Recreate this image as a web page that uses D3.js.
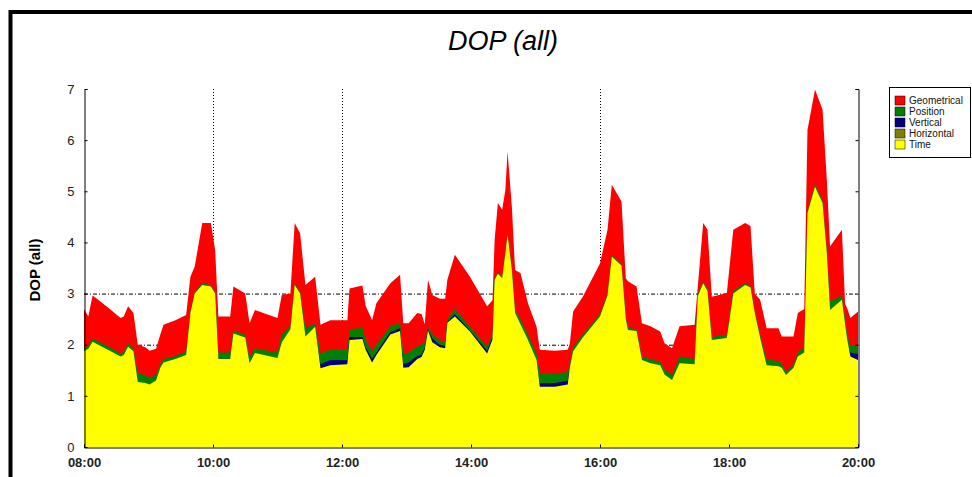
<!DOCTYPE html>
<html>
<head>
<meta charset="utf-8">
<script src="https://cdn.jsdelivr.net/npm/d3@7"></script>
<style>
  body { margin: 0; background: #fff; }
  text { font-family: "Liberation Sans", Arial, sans-serif; }
</style>
</head>
<body>
<svg id="chart" width="972" height="477"></svg>
<script>
// sample times (hh:mm)
var times = ["08:00","08:04","08:08","08:15","08:24","08:34","08:37","08:41","08:46","08:50",
  "08:57","09:01","09:07","09:11","09:14","09:25","09:35","09:39","09:43","09:50",
  "09:58","10:02","10:05","10:16","10:19","10:30","10:34","10:39","11:00","11:04",
  "11:12","11:16","11:21","11:26","11:35","11:40","11:49","12:05","12:07","12:19",
  "12:22","12:28","12:32","12:45","12:54","12:57","13:02","13:10","13:14","13:17",
  "13:20","13:24","13:31","13:36","13:38","13:45","13:59","14:15","14:20","14:22",
  "14:25","14:29","14:32","14:34","14:38","14:41","14:46","14:53","15:01","15:04",
  "15:18","15:30","15:32","15:35","15:44","16:00","16:07","16:11","16:20","16:24",
  "16:26","16:34","16:39","16:47","16:56","17:00","17:07","17:14","17:28","17:31",
  "17:36","17:40","17:44","17:58","18:04","18:15","18:20","18:24","18:29","18:35",
  "18:46","18:49","18:53","19:00","19:04","19:10","19:13","19:20","19:27","19:31",
  "19:34","19:45","19:48","19:50","19:53","20:00"];

var geometrical = [2.70,2.55,2.96,2.85,2.70,2.52,2.55,2.75,2.62,2.00,
  1.95,1.88,1.92,2.20,2.39,2.48,2.58,3.33,3.53,4.38,
  4.38,3.85,2.55,2.55,3.14,3.00,2.42,2.68,2.52,2.97,
  3.00,4.38,4.18,3.17,3.33,2.39,2.48,2.48,3.10,3.16,
  2.76,2.48,2.81,3.20,3.37,2.42,2.42,2.62,2.60,2.40,
  3.27,2.97,2.90,2.90,3.27,3.76,3.33,2.75,2.87,4.05,
  4.77,4.64,5.03,5.78,4.70,3.46,3.40,2.81,2.35,1.90,
  1.88,1.90,2.03,2.65,2.94,3.59,4.25,5.13,4.80,3.30,
  3.24,3.14,2.42,2.36,2.26,2.03,1.93,2.36,2.39,3.14,
  4.38,4.25,2.94,3.01,4.25,4.38,4.32,3.00,2.88,2.32,
  2.32,2.16,2.16,2.16,2.62,2.70,6.20,6.99,6.60,5.22,
  3.92,4.25,2.80,2.71,2.52,2.65];

var position = [1.93,1.98,2.12,2.05,1.95,1.83,1.86,2.02,1.93,1.45,
  1.40,1.35,1.42,1.62,1.72,1.78,1.87,2.66,3.02,3.20,
  3.17,3.02,1.85,1.85,2.28,2.20,1.75,1.93,1.85,2.20,
  2.35,3.20,3.02,2.32,2.42,1.83,1.90,1.90,2.30,2.33,
  2.10,1.87,2.00,2.36,2.43,1.83,1.85,1.97,2.00,2.05,
  2.35,2.20,2.08,2.05,2.50,2.70,2.35,1.96,2.20,3.30,
  3.42,3.33,3.82,4.18,3.50,2.68,2.50,2.20,1.83,1.44,
  1.44,1.46,1.65,1.95,2.20,2.60,3.00,3.75,3.58,2.55,
  2.33,2.30,1.77,1.72,1.66,1.52,1.41,1.77,1.72,3.00,
  3.23,3.10,2.15,2.20,3.05,3.20,3.15,2.65,2.20,1.71,
  1.68,1.64,1.46,1.62,1.85,1.95,4.62,5.14,4.82,3.84,
  2.85,2.96,2.50,2.20,1.98,1.98];

var vertical = [1.80,1.85,2.00,1.92,1.82,1.70,1.73,1.90,1.80,1.20,
  1.18,1.15,1.22,1.48,1.58,1.65,1.74,2.55,2.92,3.10,
  3.07,2.92,1.65,1.65,2.15,2.08,1.58,1.78,1.68,2.00,
  2.25,3.10,2.92,2.10,2.28,1.62,1.70,1.70,2.15,2.15,
  1.95,1.72,1.85,2.25,2.32,1.63,1.65,1.78,1.80,1.95,
  2.30,2.12,2.00,1.98,2.45,2.60,2.28,1.88,2.15,3.28,
  3.30,3.22,3.70,4.05,3.38,2.55,2.35,2.02,1.64,1.25,
  1.25,1.30,1.60,1.82,2.08,2.48,2.88,3.62,3.46,2.42,
  2.20,2.18,1.64,1.58,1.54,1.36,1.25,1.58,1.56,2.90,
  3.12,2.98,2.02,2.06,2.92,3.10,3.05,2.56,2.06,1.54,
  1.52,1.48,1.35,1.48,1.70,1.80,4.50,5.02,4.70,3.72,
  2.62,2.82,2.34,2.02,1.85,1.82];

var horizontal = [1.75,1.80,1.95,1.88,1.78,1.66,1.69,1.85,1.76,1.15,
  1.13,1.10,1.18,1.44,1.54,1.60,1.70,2.50,2.88,3.05,
  3.02,2.88,1.60,1.60,2.10,2.03,1.54,1.74,1.64,1.95,
  2.20,3.05,2.88,2.05,2.24,1.48,1.54,1.56,2.02,2.05,
  1.84,1.60,1.75,2.15,2.22,1.50,1.50,1.66,1.70,1.85,
  2.22,2.00,1.90,1.88,2.38,2.50,2.20,1.78,2.05,3.20,
  3.32,3.24,3.72,4.08,3.40,2.56,2.34,2.01,1.62,1.12,
  1.12,1.16,1.50,1.80,2.06,2.47,2.88,3.62,3.46,2.40,
  2.20,2.18,1.62,1.56,1.52,1.34,1.23,1.56,1.54,2.88,
  3.10,2.96,2.00,2.04,2.90,3.08,3.03,2.54,2.04,1.52,
  1.50,1.46,1.33,1.46,1.68,1.78,4.48,5.00,4.68,3.70,
  2.60,2.80,2.32,2.00,1.72,1.66];

var timeDop = [1.87,1.92,2.06,1.98,1.88,1.77,1.80,1.96,1.87,1.27,
  1.25,1.22,1.30,1.55,1.65,1.72,1.80,2.62,3.00,3.17,
  3.14,3.00,1.72,1.72,2.22,2.14,1.64,1.84,1.74,2.05,
  2.30,3.17,3.00,2.16,2.35,1.54,1.60,1.62,2.09,2.11,
  1.90,1.65,1.80,2.20,2.27,1.55,1.56,1.72,1.76,1.90,
  2.28,2.05,1.95,1.93,2.43,2.55,2.26,1.83,2.10,3.27,
  3.39,3.30,3.79,4.15,3.46,2.62,2.40,2.09,1.70,1.18,
  1.18,1.22,1.57,1.87,2.14,2.55,2.96,3.72,3.55,2.50,
  2.29,2.27,1.70,1.64,1.60,1.42,1.31,1.64,1.62,2.95,
  3.20,3.05,2.09,2.13,3.00,3.17,3.12,2.62,2.13,1.60,
  1.58,1.55,1.41,1.55,1.77,1.85,4.57,5.09,4.77,3.79,
  2.68,2.88,2.40,2.09,1.77,1.70];

var seriesNames = ["Geometrical", "Position", "Vertical", "Horizontal", "Time"];
var seriesColors = ["#ff0000", "#008000", "#000080", "#808000", "#ffff00"];
var seriesValues = [geometrical, position, vertical, horizontal, timeDop];

var yTicks = [0, 1, 2, 3, 4, 5, 6, 7];
var xTickLabels = ["08:00", "10:00", "12:00", "14:00", "16:00", "18:00", "20:00"];
var hGrid = [2, 3];
var vGrid = ["10:00", "12:00", "16:00"];

var parseT = d3.timeParse("%H:%M");
var svg = d3.select("#chart");

// outer frame (only top and left edges fall inside the picture)
svg.append("rect")
  .attr("x", 10.5).attr("y", 12)
  .attr("width", 1000).attr("height", 500)
  .attr("fill", "none").attr("stroke", "#000").attr("stroke-width", 4);

var x = d3.scaleTime()
  .domain([parseT("08:00"), parseT("20:00")])
  .range([84, 858]);
var y = d3.scaleLinear().domain([0, 7]).range([447, 89]);

// grid behind the areas
svg.append("g").selectAll("line").data(hGrid).join("line")
  .attr("x1", 84).attr("x2", 858)
  .attr("y1", function(d){ return y(d) + 0.5; })
  .attr("y2", function(d){ return y(d) + 0.5; })
  .attr("stroke", "#000").attr("stroke-dasharray", "4,2,1,2");

svg.append("g").selectAll("line").data(vGrid).join("line")
  .attr("x1", function(d){ return Math.round(x(parseT(d))) + 0.5; })
  .attr("x2", function(d){ return Math.round(x(parseT(d))) + 0.5; })
  .attr("y1", y(7)).attr("y2", y(0))
  .attr("stroke", "#000").attr("stroke-dasharray", "1,2");

// one filled area per DOP kind, drawn back to front
var areaGen = d3.area()
  .x(function(d){ return x(d.t); })
  .y0(y(0))
  .y1(function(d){ return y(d.v); });

seriesValues.forEach(function(vals, i){
  var pts = times.map(function(t, j){ return {t: parseT(t), v: vals[j]}; });
  svg.append("path")
    .datum(pts)
    .attr("d", areaGen)
    .attr("fill", seriesColors[i]);
});

// axes
var yAxisL = d3.axisLeft(y).tickValues(yTicks).tickFormat(d3.format("d"))
  .tickSize(-3).tickPadding(10);
svg.append("g").attr("transform", "translate(84.5,0)").call(yAxisL);
var yAxisR = d3.axisRight(y).tickValues(yTicks).tickSize(-3).tickFormat("");
svg.append("g").attr("transform", "translate(858.5,0)").call(yAxisR);

var xAxis = d3.axisBottom(x)
  .tickValues(xTickLabels.map(parseT))
  .tickFormat(d3.timeFormat("%H:%M"))
  .tickSize(-3).tickPadding(8);
var gB = svg.append("g").attr("transform", "translate(0,447.5)").call(xAxis);

svg.selectAll(".domain").attr("stroke", "#000");
svg.selectAll(".tick line").attr("stroke", "#000");
svg.selectAll(".tick text").attr("font-size", 13).attr("fill", "#222")
  .style("font-family", "'Liberation Sans', Arial, sans-serif");
gB.selectAll(".tick text").attr("font-weight", "bold").attr("dy", "0.9em");

// titles
svg.append("text")
  .attr("x", 503).attr("y", 50)
  .attr("text-anchor", "middle")
  .attr("font-size", 27).attr("font-style", "italic")
  .text("DOP (all)");

svg.append("text")
  .attr("transform", "translate(40,270) rotate(-90)")
  .attr("text-anchor", "middle")
  .attr("font-size", 15).attr("font-weight", "bold")
  .text("DOP (all)");

// legend
var lg = svg.append("g").attr("transform", "translate(889,87)");
lg.append("rect").attr("x", 0.5).attr("y", 0.5).attr("width", 81).attr("height", 70)
  .attr("fill", "#fff").attr("stroke", "#000");
var rows = lg.selectAll("g.row").data(seriesNames).join("g")
  .attr("class", "row")
  .attr("transform", function(d, i){ return "translate(6," + (9 + i * 11) + ")"; });
rows.append("rect").attr("width", 10).attr("height", 9)
  .attr("fill", function(d, i){ return seriesColors[i]; })
  .attr("stroke", "#000").attr("stroke-width", 0.5);
rows.append("text").attr("x", 14).attr("y", 8)
  .attr("font-size", 10).attr("fill", "#111")
  .text(function(d){ return d; });
</script>
</body>
</html>
